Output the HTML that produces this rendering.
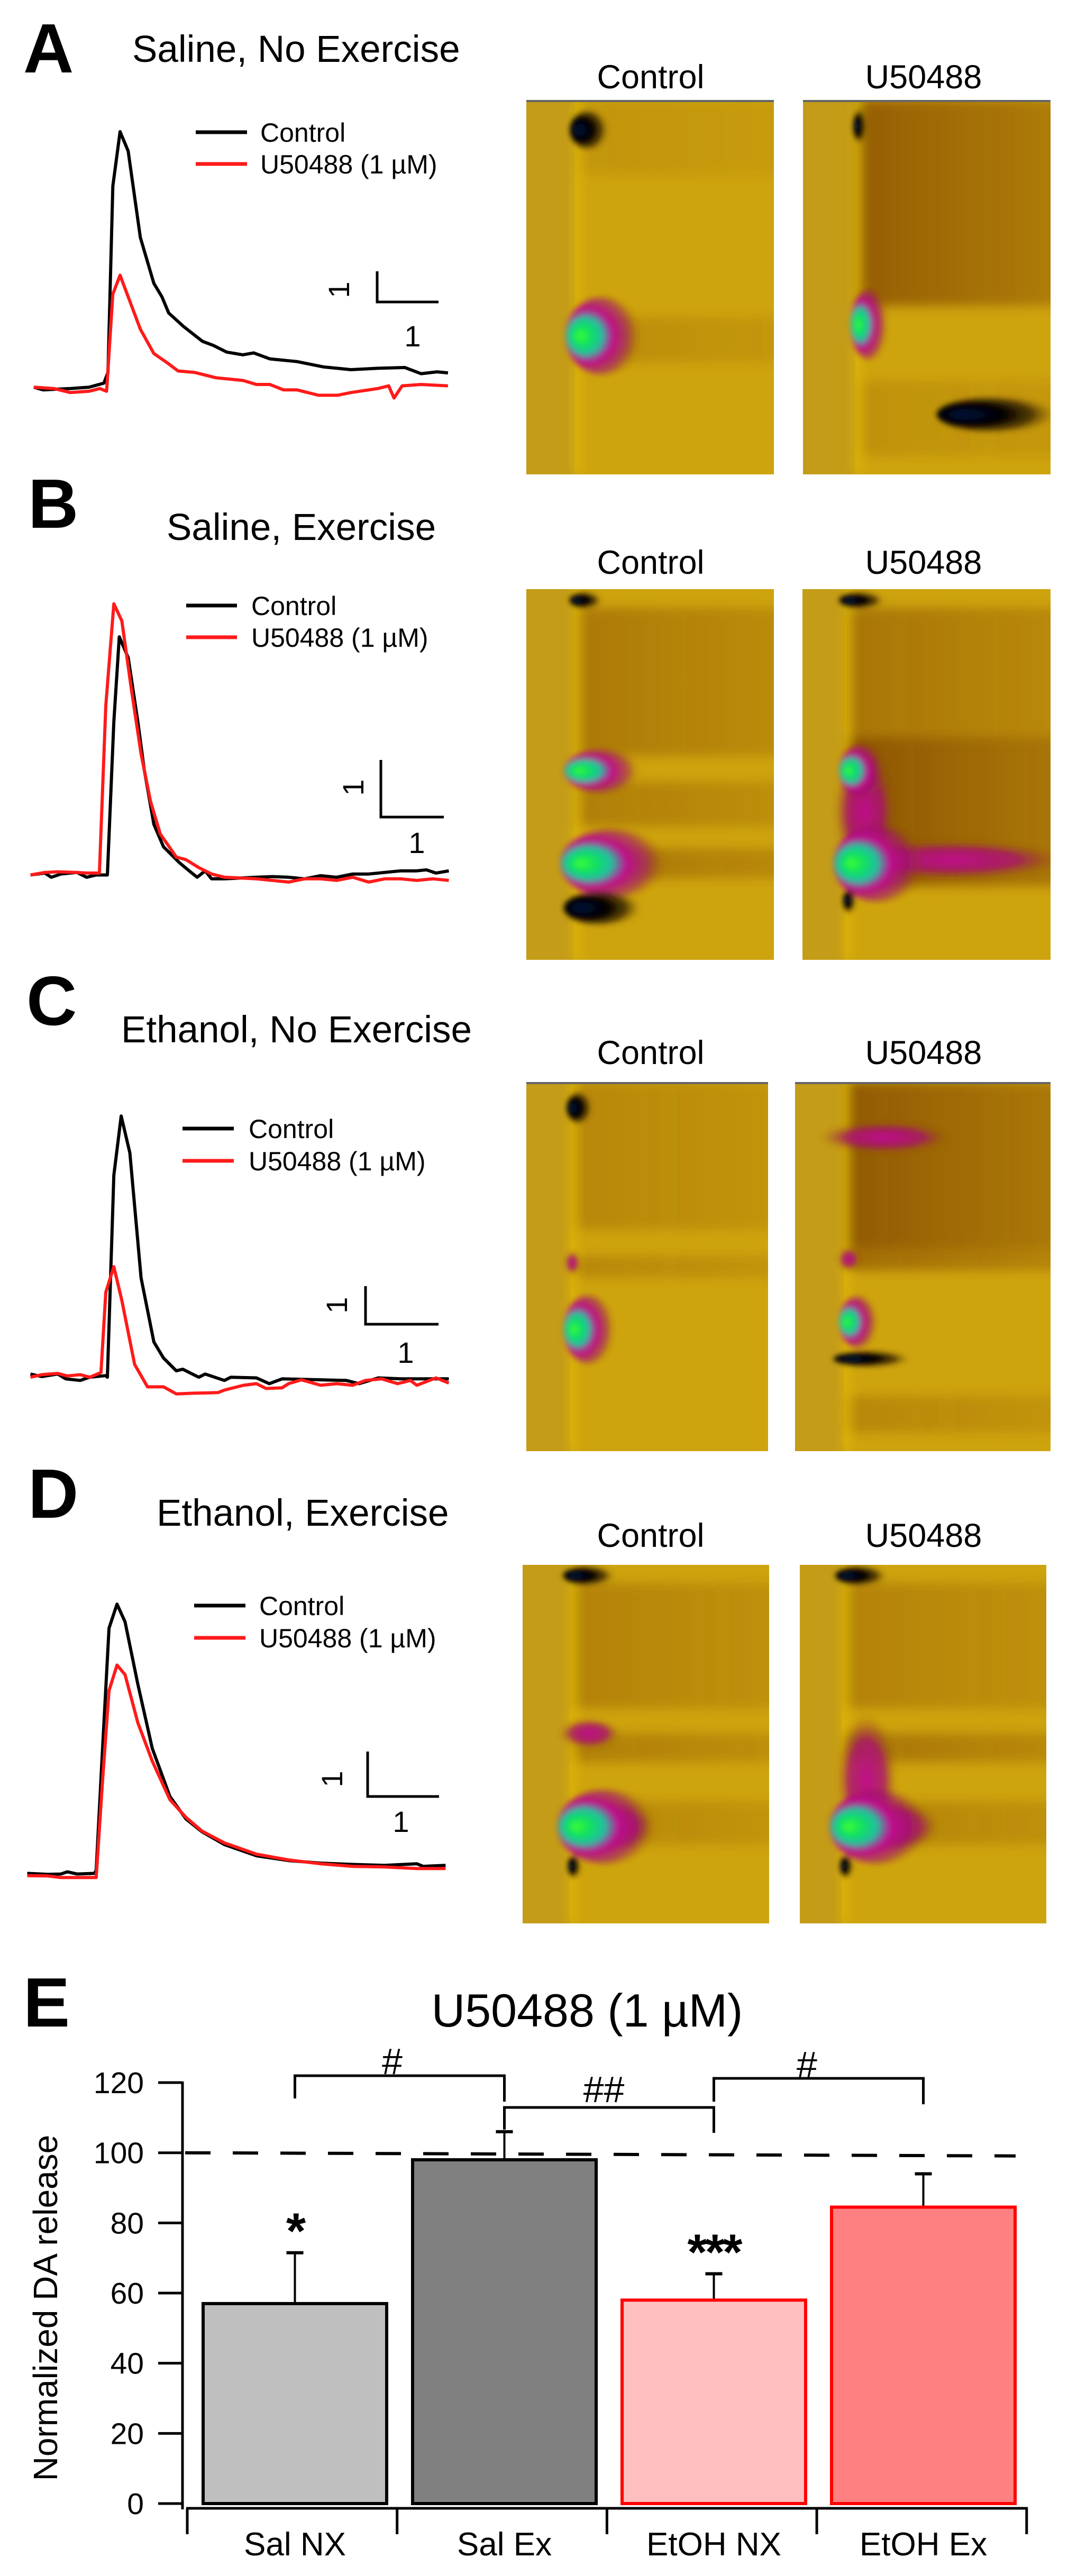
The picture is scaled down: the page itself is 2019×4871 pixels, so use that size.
<!DOCTYPE html>
<html><head><meta charset="utf-8">
<style>
html,body{margin:0;padding:0;background:#fff;}
svg{display:block;font-family:"Liberation Sans",Arial,sans-serif;}
</style></head>
<body>
<svg id="fig" width="2019" height="4871" viewBox="0 0 2019 4871" xmlns="http://www.w3.org/2000/svg">
<defs>
<filter id="blur" x="-20%" y="-20%" width="140%" height="140%"><feGaussianBlur stdDeviation="5"/></filter>
<filter id="blur2" x="-20%" y="-20%" width="140%" height="140%"><feGaussianBlur stdDeviation="10"/></filter>
<radialGradient id="gGM" cx="0.4" cy="0.5" r="0.6" fx="0.18" fy="0.5"><stop offset="0" stop-color="#40ff30"/><stop offset="0.2" stop-color="#10e060"/><stop offset="0.38" stop-color="#20c0a0"/><stop offset="0.55" stop-color="#c01090"/><stop offset="0.8" stop-color="#a01070" stop-opacity="0.6"/><stop offset="1" stop-color="#8a3a10" stop-opacity="0"/></radialGradient>
<radialGradient id="gMag"><stop offset="0" stop-color="#c0108c"/><stop offset="0.6" stop-color="#a81070" stop-opacity="0.8"/><stop offset="1" stop-color="#8a3a10" stop-opacity="0"/></radialGradient>
<radialGradient id="gDark" cx="0.4" cy="0.5" r="0.6" fx="0.2" fy="0.5"><stop offset="0" stop-color="#001040"/><stop offset="0.45" stop-color="#000"/><stop offset="0.75" stop-color="#201000" stop-opacity="0.7"/><stop offset="1" stop-color="#6a4a00" stop-opacity="0"/></radialGradient>
<linearGradient id="gBand" x1="0" x2="1"><stop offset="0" stop-color="#7a3c06" stop-opacity="0.9"/><stop offset="1" stop-color="#7a3c06" stop-opacity="0.5"/></linearGradient>
</defs>
<g id="root"></g>
</svg>
<script>
const NS='http://www.w3.org/2000/svg';
const root=document.getElementById('root');
function mk(tag,attrs,parent){const e=document.createElementNS(NS,tag);for(const k in attrs)e.setAttribute(k,attrs[k]);(parent||root).appendChild(e);return e;}
function txt(s,attrs,parent){const e=mk('text',attrs,parent);e.textContent=s;return e;}

// ---------- trace data (time units, signal units) ----------
const traceA_ctrl=[[1.25,0.05],[1.6,-0.05],[2.6,0],[3.3,0.05],[3.85,0.2],[4.0,0.6],[4.18,7.5],[4.45,9.52],[4.75,8.8],[5.2,5.6],[5.7,3.9],[6.0,3.4],[6.25,2.8],[6.8,2.3],[7.5,1.75],[7.9,1.6],[8.4,1.35],[9.0,1.25],[9.4,1.32],[10,1.1],[11,1.0],[12,0.8],[12.5,0.75],[13,0.7],[14,0.75],[15,0.78],[15.6,0.55],[16.2,0.62],[16.6,0.58]];
const traceA_drug=[[1.25,0.05],[2.0,0],[2.6,-0.15],[3.3,-0.1],[3.7,0],[3.95,-0.1],[4.18,3.5],[4.45,4.2],[4.75,3.4],[5.2,2.2],[5.7,1.3],[6.2,0.95],[6.6,0.65],[7.2,0.6],[8.0,0.4],[9.0,0.3],[9.5,0.15],[10,0.15],[10.5,-0.05],[11,-0.05],[11.8,-0.25],[12.5,-0.25],[13,-0.15],[14,0],[14.4,0.1],[14.6,-0.35],[14.9,0.1],[15.6,0.15],[16.6,0.1]];
const traceB_ctrl=[[0.95,-0.03],[1.4,0.03],[1.6,-0.1],[1.9,0],[2.4,0.05],[2.7,-0.1],[3.0,-0.03],[3.35,-0.03],[3.55,4.75],[3.72,7.4],[4.0,6.75],[4.3,4.75],[4.5,3.25],[4.8,1.55],[5.1,0.85],[5.6,0.35],[5.9,0.1],[6.15,-0.1],[6.4,0.1],[6.6,-0.15],[7.0,-0.15],[8.0,-0.1],[8.5,-0.08],[9.0,-0.1],[9.5,-0.15],[10,-0.05],[10.5,-0.1],[11,0],[11.5,0],[12,0.05],[12.5,0.1],[13,0.1],[13.3,0.13],[13.6,0.03],[14,0.1]];
const traceB_drug=[[0.95,-0.03],[1.4,0.05],[1.8,0.07],[2.4,0.05],[2.7,0.03],[3.1,0.03],[3.3,5.25],[3.55,8.43],[3.8,7.9],[4.1,5.75],[4.4,3.75],[4.7,2.25],[5.0,1.25],[5.5,0.53],[5.8,0.45],[6.2,0.2],[6.6,0],[7.0,-0.1],[8.0,-0.15],[9.0,-0.25],[9.5,-0.15],[10,-0.15],[10.5,-0.2],[11,-0.1],[11.5,-0.25],[12,-0.15],[12.5,-0.15],[13,-0.2],[13.5,-0.15],[14,-0.2]];
const traceC_ctrl=[[0.95,0.1],[1.3,0.02],[1.8,0.1],[2.05,-0.05],[2.5,-0.1],[2.8,0],[3.3,0.05],[3.35,0],[3.55,6.3],[3.78,8.15],[4.05,7.0],[4.4,3.1],[4.8,1.1],[5.1,0.6],[5.5,0.2],[5.7,0.25],[6.0,0.1],[6.2,0],[6.4,0.1],[7.0,-0.1],[7.2,0],[8.0,-0.02],[8.4,-0.2],[8.8,-0.05],[10,-0.08],[10.8,-0.1],[11.2,-0.2],[11.8,-0.02],[12.5,-0.05],[13,-0.05],[14,-0.05]];
const traceC_drug=[[0.95,0],[1.3,0.08],[1.8,0.12],[2.1,0.04],[2.5,0.08],[2.8,0],[3.15,0.15],[3.3,2.65],[3.55,3.45],[3.8,2.4],[4.2,0.4],[4.6,-0.3],[5.1,-0.3],[5.5,-0.52],[6.0,-0.5],[6.8,-0.48],[7.0,-0.4],[7.6,-0.25],[8.0,-0.2],[8.3,-0.35],[8.8,-0.33],[9.0,-0.2],[9.4,-0.08],[10,-0.25],[10.5,-0.2],[11,-0.25],[11.4,-0.1],[11.9,-0.05],[12.4,-0.2],[12.8,-0.1],[13,-0.25],[13.6,-0.02],[14,-0.18]];
const traceD_ctrl=[[0.85,0.05],[1.5,0.02],[1.9,0.03],[2.1,0.1],[2.4,0.03],[2.95,0.05],[3.0,0.15],[3.2,3.95],[3.4,7.7],[3.65,8.45],[3.9,7.9],[4.3,5.95],[4.75,3.95],[5.3,2.45],[5.8,1.75],[6.3,1.35],[7.0,0.95],[8.0,0.6],[9.0,0.45],[10,0.37],[11,0.33],[12,0.3],[13,0.35],[13.2,0.27],[13.9,0.3]];
const traceD_drug=[[0.85,-0.02],[1.5,-0.03],[1.9,-0.08],[3.0,-0.08],[3.2,2.95],[3.4,5.75],[3.65,6.55],[3.9,6.25],[4.3,4.75],[4.75,3.55],[5.3,2.35],[5.8,1.8],[6.3,1.37],[7.0,1.0],[8.0,0.65],[9.0,0.47],[10,0.35],[11,0.27],[12,0.25],[13,0.2],[13.9,0.2]];

// ---------- bar chart data ----------
const barCategories=['Sal NX','Sal Ex','EtOH NX','EtOH Ex'];
const barMeans=[57,98,58,84.5];
const barErrors=[14.5,8,7.5,9.5];
const barFills=['#bfbfbf','#808080','#ffbfbf','#ff8080'];
const barStrokes=['#000','#000','#ff0000','#ff0000'];
const barStars=['*','','***',''];
const yTickValues=[0,20,40,60,80,100,120];

// ---------- panels ----------
const panels=[
 {id:'a',letter:'A',lx:44,ly:137,title:'Saline, No Exercise',tx:250,ty:117,f:1.96,oy:0,base:1440,
  ctrl:traceA_ctrl,drug:traceA_drug,leg:{x1:370,x2:467,y1:250,y2:310,tx:492},
  sb:{vx:713,vy1:513,vy2:571,hx2:829,one:[780,655],rot:[640,548]},
  hmY:189,hmH:708,hmLab:167,hm:[[995,468],[1518,468]],topline:true},
 {id:'b',letter:'B',lx:53,ly:998,title:'Saline, Exercise',tx:315,ty:1021,f:1.65,oy:880,base:1275,
  ctrl:traceB_ctrl,drug:traceB_drug,leg:{x1:352,x2:448,y1:1145,y2:1205,tx:475},
  sb:{vx:720,vy1:1437,vy2:1545,hx2:839,one:[788,1613],rot:[667,1489]},
  hmY:1114,hmH:701,hmLab:1085,hm:[[995,468],[1517,469]],topline:false},
 {id:'c',letter:'C',lx:50,ly:1938,title:'Ethanol, No Exercise',tx:229,ty:1971,f:1.65,oy:1780,base:1360,
  ctrl:traceC_ctrl,drug:traceC_drug,leg:{x1:345,x2:442,y1:2134,y2:2195,tx:470},
  sb:{vx:691,vy1:2432,vy2:2504,hx2:829,one:[767,2577],rot:[636,2468]},
  hmY:2046,hmH:698,hmLab:2012,hm:[[995,457],[1503,483]],topline:true},
 {id:'d',letter:'D',lx:53,ly:2870,title:'Ethanol, Exercise',tx:296,ty:2885,f:1.65,oy:2700,base:1395,
  ctrl:traceD_ctrl,drug:traceD_drug,leg:{x1:367,x2:464,y1:3036,y2:3097,tx:490},
  sb:{vx:695,vy1:3312,vy2:3397,hx2:830,one:[758,3464],rot:[627,3364]},
  hmY:2959,hmH:678,hmLab:2925,hm:[[988,466],[1512,466]],topline:false}
];

// heatmap feature specs (fractions of heatmap box)
const heatSpecs={
 a0:{stim:0.195,brown:[[0.0,0.2,0.15],[0.58,0.12,0.25]],feats:[['dark',0.24,0.08,0.06,0.05],['gm',0.23,0.63,0.1,0.09]]},
 a1:{stim:0.21,brown:[[0.0,0.55,0.75],[0.75,0.2,0.2]],feats:[['gm',0.22,0.6,0.05,0.08],['dark',0.21,0.07,0.02,0.04],['black',0.78,0.84,0.24,0.045]]},
 b0:{stim:0.19,brown:[[0.05,0.4,0.45],[0.52,0.12,0.4],[0.7,0.08,0.5]],feats:[['dark',0.22,0.03,0.05,0.02],['gm',0.21,0.49,0.1,0.05],['gm',0.24,0.74,0.14,0.08],['dark',0.23,0.86,0.12,0.045]]},
 b1:{stim:0.17,brown:[[0.05,0.35,0.5],[0.4,0.4,0.85]],feats:[['dark',0.22,0.03,0.07,0.02],['mag',0.6,0.73,0.45,0.05],['mag',0.25,0.6,0.12,0.16],['gm',0.2,0.49,0.06,0.06],['gm',0.22,0.74,0.12,0.09],['dark',0.18,0.84,0.02,0.03]]},
 c0:{stim:0.18,brown:[[0.0,0.4,0.3],[0.47,0.06,0.3]],feats:[['dark',0.21,0.07,0.04,0.04],['mag',0.19,0.49,0.03,0.03],['gm',0.2,0.67,0.07,0.08]]},
 c1:{stim:0.19,brown:[[0.0,0.45,0.8],[0.45,0.06,0.6],[0.85,0.1,0.3]],feats:[['mag',0.35,0.15,0.25,0.04],['mag',0.21,0.48,0.04,0.03],['gm',0.22,0.65,0.05,0.06],['black',0.3,0.75,0.15,0.02]]},
 d0:{stim:0.19,brown:[[0.05,0.35,0.35],[0.47,0.08,0.4],[0.66,0.12,0.3]],feats:[['dark',0.25,0.03,0.08,0.025],['mag',0.27,0.47,0.12,0.04],['mag',0.35,0.73,0.18,0.07],['gm',0.26,0.73,0.13,0.09],['dark',0.2,0.84,0.02,0.03]]},
 d1:{stim:0.17,brown:[[0.05,0.35,0.35],[0.47,0.08,0.5],[0.66,0.12,0.35]],feats:[['dark',0.24,0.03,0.08,0.025],['mag',0.27,0.6,0.12,0.18],['mag',0.38,0.73,0.18,0.07],['gm',0.26,0.73,0.13,0.09],['dark',0.18,0.84,0.02,0.03]]}
};

function drawHeat(key,x,y,w,h,topline){
 const sp=heatSpecs[key];
 const g=mk('g',{});
 
 
 const cp=mk('clipPath',{id:'cp'+key},g);
 mk('rect',{x:x,y:y,width:w,height:h},cp);
 const inner=mk('g',{'clip-path':'url(#cp'+key+')'},g);
 mk('rect',{x:x,y:y,width:w,height:h,fill:'#cea40e'},inner);
 mk('rect',{x:x,y:y,width:w*sp.stim,height:h,fill:'#c49c18'},inner);
 const blurG=mk('g',{filter:'url(#blur2)'},inner);
 sp.brown.forEach(b=>{mk('rect',{x:x+w*sp.stim,y:y+h*b[0],width:w*(1-sp.stim)+20,height:h*b[1],fill:'url(#gBand)',opacity:b[2]},blurG);});
 mk('rect',{x:x+w*sp.stim,y:y,width:8,height:h,fill:'#f2cc10',opacity:0.8},blurG);
 const fg=mk('g',{filter:'url(#blur)'},inner);
 const sx=x+w*sp.stim;
 sp.feats.forEach(f=>{
  let cx=x+w*f[1],cy=y+h*f[2],rx=w*f[3],ry=h*f[4];
  let fill='url(#gDark)';
  if(f[0]==='gm'){fill='url(#gGM)';rx=rx*1.5;ry=ry*1.15;cx=sx+rx*0.75;}
  else if(f[0]==='mag'){fill='url(#gMag)';}
  else if(f[0]==='dark'){rx=rx*1.3;cx=sx+rx*0.75;}
  mk('ellipse',{cx:cx,cy:cy,rx:rx,ry:ry,fill:fill},fg);
 });
 if(topline) mk('rect',{x:x,y:y,width:w,height:4,fill:'#666'},g);
}

panels.forEach(p=>{
 const g=mk('g',{});
 
 
 const L=txt(p.letter,{x:p.lx,y:p.ly,'font-size':132,'font-weight':'bold',fill:'#000'},g);
 
 
 const T=txt(p.title,{x:p.tx,y:p.ty,'font-size':71,fill:'#000'},g);
 
 
 const xs=t=>t*100/p.f;
 const ys=v=>p.oy+(p.base-v*100)/p.f;
 [['ctrl','#000'],['drug','#ff1a1a']].forEach(s=>{
  const pts=p[s[0]].map(d=>xs(d[0]).toFixed(1)+','+ys(d[1]).toFixed(1)).join(' ');
  const pl=mk('polyline',{points:pts,fill:'none',stroke:s[1],'stroke-width':6,'stroke-linejoin':'round'},g);
  
  
 });
 const lg=mk('g',{},g);
 
 
 mk('line',{x1:p.leg.x1,x2:p.leg.x2,y1:p.leg.y1,y2:p.leg.y1,stroke:'#000','stroke-width':7},lg);
 mk('line',{x1:p.leg.x1,x2:p.leg.x2,y1:p.leg.y2,y2:p.leg.y2,stroke:'#ff1a1a','stroke-width':7},lg);
 txt('Control',{x:p.leg.tx,y:p.leg.y1+18,'font-size':50},lg);
 txt('U50488 (1 \u00b5M)',{x:p.leg.tx,y:p.leg.y2+18,'font-size':50},lg);
 const sb=mk('g',{},g);
 
 
 mk('polyline',{points:`${p.sb.vx},${p.sb.vy1} ${p.sb.vx},${p.sb.vy2} ${p.sb.hx2},${p.sb.vy2}`,fill:'none',stroke:'#000','stroke-width':5},sb);
 txt('1',{x:p.sb.one[0],y:p.sb.one[1],'font-size':56,'text-anchor':'middle'},sb);
 txt('1',{x:0,y:0,'font-size':56,'text-anchor':'middle',transform:`translate(${p.sb.rot[0]+20},${p.sb.rot[1]}) rotate(-90)`},sb);
 ['Control','U50488'].forEach((lab,i)=>{
  const hx=p.hm[i][0],hw=p.hm[i][1];
  const t=txt(lab,{x:i===0?1230:1746,y:p.hmLab,'font-size':63,'text-anchor':'middle'},g);
  
  
  drawHeat(p.id+i,hx,p.hmY,hw,p.hmH,p.topline);
 });
});

// ---------- panel E bar chart ----------
const E=mk('g',{});


const yv=v=>4734-v*6.633;
const barX=i=>384+i*396;
const barW=347;
const eL=txt('E',{x:44,y:3832,'font-size':132,'font-weight':'bold'},E);


const eT=txt('U50488 (1 \u00b5M)',{x:1110,y:3832,'font-size':88,'text-anchor':'middle'},E);


const yt=txt('Normalized DA release',{x:0,y:0,'font-size':64,'text-anchor':'middle',transform:'translate(108,4364) rotate(-90)'},E);


const yAxis=mk('line',{x1:345,x2:345,y1:yv(120)-2,y2:4745,stroke:'#000','stroke-width':5},E);


yTickValues.forEach(v=>{
 const tk=mk('line',{x1:299,x2:345,y1:yv(v),y2:yv(v),stroke:'#000','stroke-width':5},E);
 
 
 const tl=txt(String(v),{x:272,y:yv(v)+20,'font-size':57,'text-anchor':'end'},E);
 
 
});
const xAxis=mk('line',{x1:352,x2:1943,y1:4743,y2:4743,stroke:'#000','stroke-width':5},E);


for(let i=0;i<=barCategories.length;i++){
 const xx=354+i*396.7;
 const tk=mk('line',{x1:xx,x2:xx,y1:4743,y2:4792,stroke:'#000','stroke-width':5},E);
 
 
}
barCategories.forEach((c,i)=>{
 const cx=barX(i)+barW/2;
 const err=mk('g',{},E);
 
 
 mk('line',{x1:cx,x2:cx,y1:yv(barMeans[i]),y2:yv(barMeans[i]+barErrors[i]),stroke:'#000','stroke-width':4},err);
 mk('line',{x1:cx-16,x2:cx+16,y1:yv(barMeans[i]+barErrors[i]),y2:yv(barMeans[i]+barErrors[i]),stroke:'#000','stroke-width':6},err);
 const r=mk('rect',{x:barX(i),y:yv(barMeans[i]),width:barW,height:yv(0)-yv(barMeans[i]),fill:barFills[i],stroke:barStrokes[i],'stroke-width':6},E);
 
 
 const lb=txt(c,{x:cx,y:4832,'font-size':62,'text-anchor':'middle'},E);
 
 
 if(barStars[i]){
  const st=txt(barStars[i],{x:cx,y:yv(barMeans[i]+barErrors[i])-8,'font-size':96,'font-weight':'bold','text-anchor':'middle','letter-spacing':'-4'},E);
  
  
 }
});
const dash=mk('line',{x1:350,x2:1920,y1:yv(100),y2:yv(100)+6,stroke:'#000','stroke-width':6,'stroke-dasharray':'48 42'},E);


const brackets=[[0,1,3925,3968,3974,'#',3922],[1,2,3985,yv(106)-4,4033,'##',3975],[2,3,3930,3974,3979,'#',3928]];
brackets.forEach((b,k)=>{
 const x1=barX(b[0])+barW/2,x2=barX(b[1])+barW/2;
 const bg=mk('g',{},E);
 
 
 mk('polyline',{points:`${x1},${b[3]} ${x1},${b[2]} ${x2},${b[2]} ${x2},${b[4]}`,fill:'none',stroke:'#000','stroke-width':5},bg);
 txt(b[5],{x:(x1+x2)/2-(k===1?10:-(k===0?-14:-22)),y:b[6],'font-size':70,'text-anchor':'middle'},bg);
});
</script>
</body></html>
